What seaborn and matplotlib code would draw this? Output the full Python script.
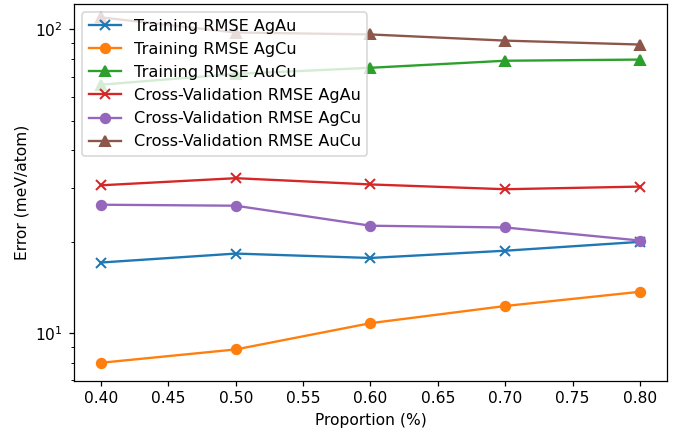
import matplotlib
matplotlib.use("Agg")
import matplotlib.pyplot as plt
import seaborn as sns
import pandas as pd

proportion = [0.4, 0.5, 0.6, 0.7, 0.8]
train_agau = [17.1, 18.3, 17.7, 18.7, 20.0]
train_agcu = [8.0, 8.85, 10.8, 12.3, 13.7]
train_aucu = [65.8, 71.4, 74.8, 78.9, 79.6]
cv_agau = [30.7, 32.4, 30.9, 29.8, 30.4]
cv_agcu = [26.5, 26.3, 22.6, 22.3, 20.2]
cv_aucu = [109.6, 97.7, 96.3, 91.9, 89.2]

series = [
    ("Training RMSE AgAu", train_agau, "x", "#1f77b4"),
    ("Training RMSE AgCu", train_agcu, "o", "#ff7f0e"),
    ("Training RMSE AuCu", train_aucu, "^", "#2ca02c"),
    ("Cross-Validation RMSE AgAu", cv_agau, "x", "#d62728"),
    ("Cross-Validation RMSE AgCu", cv_agcu, "o", "#9467bd"),
    ("Cross-Validation RMSE AuCu", cv_aucu, "^", "#8c564b"),
]

DPI = 112
fig, ax = plt.subplots(figsize=(673 / DPI, 431 / DPI), dpi=DPI)
for name, vals, mk, col in series:
    df = pd.DataFrame({"Proportion": proportion, "Error": vals})
    sns.lineplot(data=df, x="Proportion", y="Error", ax=ax, marker=mk,
                 color=col, label=name, markersize=6, linewidth=1.5,
                 markeredgecolor=col, markeredgewidth=1.3)
ax.set_yscale("log")
ax.set_xlabel("Proportion (%)")
ax.set_ylabel("Error (meV/atom)")
ax.set_xlim(0.38, 0.82)
ax.set_ylim(6.99, 121)
ax.legend(loc="upper left", fontsize=10.4)
fig.subplots_adjust(left=0.110, right=0.991, top=0.990, bottom=0.117)
fig.savefig("out.png", dpi=DPI)
